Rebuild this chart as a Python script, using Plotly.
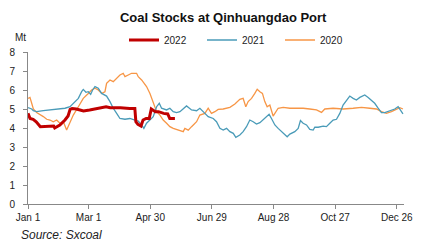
import plotly.graph_objects as go

# Day-of-year positions (0 = Jan 1) and values (Mt)
days_2022 = [0, 2, 5, 8, 12, 18, 25, 26, 31, 36, 39, 41, 43, 47, 54, 60, 67, 76, 80, 90, 99, 104,
             105, 107, 110, 112, 115, 118, 120, 124, 127, 132, 136, 138, 143]
vals_2022 = [4.77, 4.5, 4.46, 4.33, 4.07, 4.07, 4.1, 4.0, 4.16, 4.42, 4.63, 4.98, 5.03, 5.0, 4.9,
             4.95, 5.04, 5.12, 5.07, 5.07, 5.03, 5.03, 4.33, 4.19, 4.1, 4.42, 4.5, 4.5, 5.0, 4.86,
             4.86, 4.77, 4.74, 4.5, 4.5]

days_2021 = [0, 3.6, 5.2, 8.4, 14.9, 21.4, 26.3, 31.1, 36, 40.9, 44.1, 49, 52.2, 53.8, 56.4, 58.7,
             61, 62.9, 65.2, 68.4, 71.7, 76.5, 79.8, 83, 86.3, 89.5, 94.4, 99.2, 104.1, 107.3,
             110.6, 112.8, 115.4, 118.7, 121.9, 125.2, 127.8, 130, 134.9, 138.1, 141.4, 144.6,
             147.9, 154.3, 159.2, 164.1, 167.3, 172.2, 175.4, 180.3, 183.5,
             186.8, 190, 193.3, 196.5, 199.8, 202.3, 206.2, 209.4, 212.7, 215.9, 219.2, 222.4,
             225.7, 228.9, 232.2, 234.7, 237, 240.3, 243.5, 246.7, 250, 252.3, 254.9, 259.7, 263,
             265.2, 267.8, 271.1, 274.3, 277.6, 279.2, 282.5, 287.3, 290.5, 293.8, 297, 300.3,
             303.5, 306.7, 310, 313.2, 316.5, 319.7, 323, 327.8, 331.1, 334.3, 337.5, 340.8, 344,
             347.3, 350.5, 353.8, 357, 360.3, 362.5, 365]
vals_2021 = [5.07, 5.0, 4.91, 4.86, 4.91, 4.95, 5.0, 5.04, 5.04, 5.12, 5.3, 5.56, 5.91, 6.03, 5.88,
             5.91, 5.77, 6.0, 6.18, 6.09, 5.82, 5.68, 5.39, 5.04, 4.77, 4.5, 4.46, 4.5, 4.42, 4.37,
             4.16, 3.98, 4.25, 4.42, 4.6, 5.12, 5.3, 5.04, 4.95, 5.04, 4.86, 4.81, 4.86, 5.16,
             4.95, 4.91, 5.04, 4.77, 4.6, 4.5, 4.33,
             3.98, 3.89, 3.98, 3.81, 3.72, 3.51, 3.63, 3.81, 4.07, 4.42, 4.33, 4.21, 4.28, 4.42,
             4.56, 4.72, 4.5, 4.16, 3.98, 3.81, 3.63, 3.54, 3.68, 3.81, 3.98, 4.39, 4.25, 4.16,
             3.93, 3.89, 4.04, 4.04, 4.1, 4.07, 4.25, 4.42, 4.46, 4.77, 5.21, 5.47, 5.68, 5.56,
             5.47, 5.61, 5.74, 5.61, 5.47, 5.3, 5.04, 4.81, 4.81, 4.86, 4.95, 5.0, 5.12, 4.95,
             4.74]

days_2020 = [0, 1.9, 3.6, 5.2, 8.4, 11.7, 14.9, 18.2, 21.4, 24.6, 27.9, 31.1, 34.4, 37.6, 40.9,
             44.1, 49, 53.8, 58.7, 61.9, 65.2, 68.4, 71.7, 74.9, 76.5, 79.8, 83, 86.3, 89.5, 92.7,
             94.4, 97.6, 100.8, 105.7, 107.3, 110.6, 115.4, 118.7, 121.9, 125.2, 128.4, 131.6,
             134.9, 138.1, 141.4, 144.6, 147.9, 151.1, 152.7, 156, 159.2, 164.1, 167.3, 172.2,
             175.4, 178.6, 181.9, 185.1,
             190, 196.5, 201.4, 206.2, 209.4, 212, 214.3, 217.6, 220.8, 223.1, 225.7, 228.2,
             230.5, 232.8, 235.4, 237, 238.6, 240.3, 243.5, 248.4, 254.9, 261.4, 267.9, 274.3,
             280.8, 285.7, 288.9, 297, 306.7, 316.5, 324.6, 332.7, 339.2, 344.1, 348.9, 353.8,
             358.6, 361.9, 365]
vals_2020 = [5.56, 5.61, 5.3, 5.0, 4.81, 4.72, 4.6, 4.46, 4.42, 4.33, 4.42, 4.25, 4.33, 3.89, 4.25,
             4.68, 5.12, 5.56, 5.82, 6.0, 6.09, 6.0, 5.82, 5.91, 6.35, 6.53, 6.44, 6.61, 6.79, 6.88,
             6.7, 6.79, 6.88, 6.88, 6.7, 6.53, 6.18, 5.82, 5.3, 4.86, 4.68, 4.42, 4.25, 4.07, 3.98,
             3.93, 3.89, 3.81, 3.98, 3.89, 4.07, 4.33, 4.68, 4.77, 5.04, 4.77, 4.86, 4.98,
             5.0, 5.09, 5.26, 5.51, 5.56, 5.12, 5.39, 5.56, 5.82, 6.04, 5.91, 5.82, 5.39, 5.12,
             5.21, 4.95, 4.63, 4.77, 5.04, 5.09, 5.04, 5.04, 5.04, 5.0, 4.95, 4.82, 5.0, 5.04, 5.0,
             5.04, 5.09, 5.04, 5.0, 4.86, 4.77, 4.86, 5.0, 5.07, 5.0]

tick_days = [0, 59, 119, 179, 239, 299, 359]
tick_labels = ["Jan 1", "Mar 1", "Apr 30", "Jun 29", "Aug 28", "Oct 27", "Dec 26"]

FONT = "Liberation Sans"
PLOT_W, PLOT_H = 376, 152

fig = go.Figure()
fig.add_trace(go.Scatter(x=days_2020, y=vals_2020, mode="lines", name="2020",
                         line=dict(color="#F79646", width=1.3)))
fig.add_trace(go.Scatter(x=days_2021, y=vals_2021, mode="lines", name="2021",
                         line=dict(color="#4A9BB8", width=1.3)))
fig.add_trace(go.Scatter(x=days_2022, y=vals_2022, mode="lines", name="2022",
                         line=dict(color="#C00000", width=3)))

fig.update_layout(
    width=430, height=245,
    margin=dict(l=28, r=26, t=52, b=41, autoexpand=False),
    paper_bgcolor="white", plot_bgcolor="white",
    font=dict(family=FONT, size=10, color="#222"),
    title=dict(text="<b>Coal Stocks at Qinhuangdao Port</b>", x=0.519, xref="container",
               xanchor="center", y=1 - 17 / 245, yref="container", yanchor="middle",
               font=dict(family=FONT, size=13, color="#111")),
    showlegend=True,
    legend=dict(orientation="h", traceorder="reversed", x=(124 - 28) / PLOT_W, xanchor="left",
                y=1 - 40 / 245, yref="container", yanchor="middle",
                entrywidth=33, entrywidthmode="pixels",
                font=dict(family=FONT, size=10, color="#222"),
                bgcolor="rgba(0,0,0,0)", borderwidth=0),
    xaxis=dict(range=[0, 366], tickvals=tick_days, ticktext=tick_labels,
               showgrid=False, zeroline=False, showline=True, linecolor="#888", linewidth=1,
               ticks="outside", ticklen=4, tickcolor="#888",
               tickfont=dict(family=FONT, size=10, color="#222")),
    yaxis=dict(range=[0, 8], dtick=1, showgrid=False, zeroline=False, showline=True,
               linecolor="#888", linewidth=1, ticks="outside", ticklen=4, tickcolor="#888",
               ticklabelstandoff=6,
               tickfont=dict(family=FONT, size=10, color="#222")),
    annotations=[
        dict(text="Mt", xref="paper", yref="paper", x=-8 / PLOT_W, y=1 + 15 / PLOT_H,
             xanchor="center", yanchor="middle", showarrow=False,
             font=dict(family=FONT, size=10, color="#222")),
        dict(text="<i>Source: Sxcoal</i>", xref="paper", yref="paper",
             x=(19 - 28) / PLOT_W, y=(204 - 235) / PLOT_H, xanchor="left", yanchor="middle",
             showarrow=False, font=dict(family=FONT, size=12, color="#222")),
    ],
)

fig.write_html("out.html")
